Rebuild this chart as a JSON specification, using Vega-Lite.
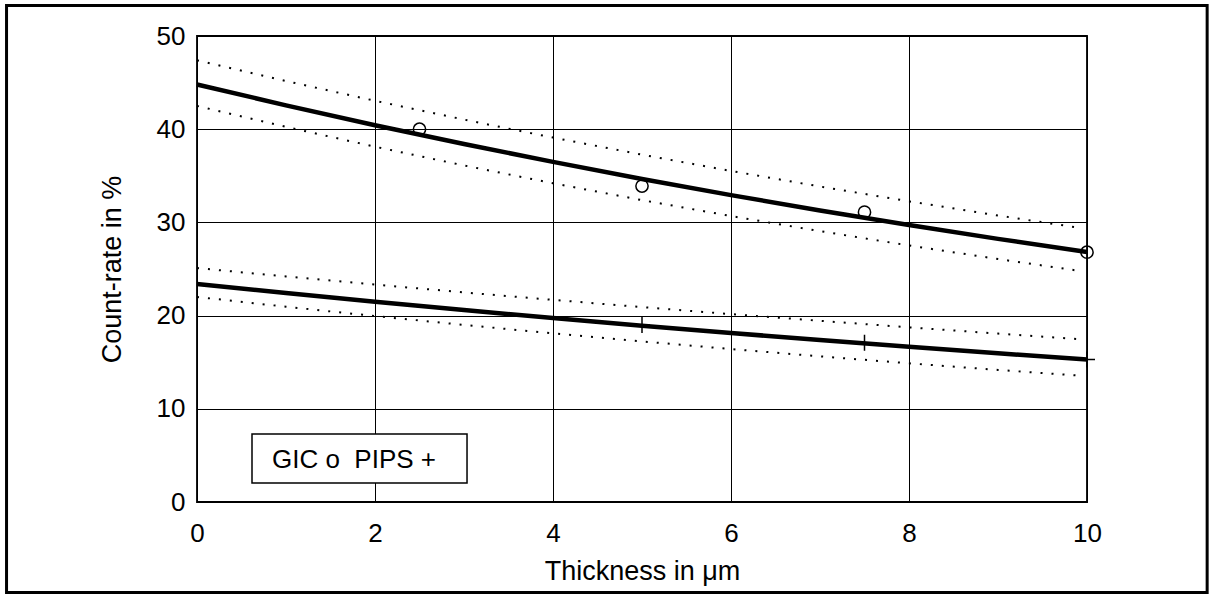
{
  "$schema": "https://vega.github.io/schema/vega-lite/v6.json",
  "width": 890,
  "height": 466,
  "autosize": "none",
  "padding": {"left": 197, "top": 36, "right": 122, "bottom": 92},
  "background": "white",
  "datasets": {
    "measured": [
      {"series": "GIC", "thickness": 2.5, "count": 40.0},
      {"series": "GIC", "thickness": 5.0, "count": 33.9},
      {"series": "GIC", "thickness": 7.5, "count": 31.1},
      {"series": "GIC", "thickness": 10.0, "count": 26.8},
      {"series": "PIPS", "thickness": 5.0, "count": 19.0},
      {"series": "PIPS", "thickness": 7.5, "count": 17.1},
      {"series": "PIPS", "thickness": 10.0, "count": 15.3}
    ],
    "curves": [
      {"series": "GIC", "band": "fit", "thickness": 0, "count": 44.8},
      {"series": "GIC", "band": "fit", "thickness": 1, "count": 42.56},
      {"series": "GIC", "band": "fit", "thickness": 2, "count": 40.43},
      {"series": "GIC", "band": "fit", "thickness": 3, "count": 38.41},
      {"series": "GIC", "band": "fit", "thickness": 4, "count": 36.49},
      {"series": "GIC", "band": "fit", "thickness": 5, "count": 34.66},
      {"series": "GIC", "band": "fit", "thickness": 6, "count": 32.93},
      {"series": "GIC", "band": "fit", "thickness": 7, "count": 31.28},
      {"series": "GIC", "band": "fit", "thickness": 8, "count": 29.72},
      {"series": "GIC", "band": "fit", "thickness": 9, "count": 28.23},
      {"series": "GIC", "band": "fit", "thickness": 10, "count": 26.82},
      {"series": "GIC", "band": "upper", "thickness": 0, "count": 47.4},
      {"series": "GIC", "band": "upper", "thickness": 1, "count": 45.17},
      {"series": "GIC", "band": "upper", "thickness": 2, "count": 43.05},
      {"series": "GIC", "band": "upper", "thickness": 3, "count": 41.03},
      {"series": "GIC", "band": "upper", "thickness": 4, "count": 39.1},
      {"series": "GIC", "band": "upper", "thickness": 5, "count": 37.27},
      {"series": "GIC", "band": "upper", "thickness": 6, "count": 35.52},
      {"series": "GIC", "band": "upper", "thickness": 7, "count": 33.85},
      {"series": "GIC", "band": "upper", "thickness": 8, "count": 32.26},
      {"series": "GIC", "band": "upper", "thickness": 9, "count": 30.74},
      {"series": "GIC", "band": "upper", "thickness": 9.9, "count": 29.44},
      {"series": "GIC", "band": "lower", "thickness": 0, "count": 42.5},
      {"series": "GIC", "band": "lower", "thickness": 1, "count": 40.25},
      {"series": "GIC", "band": "lower", "thickness": 2, "count": 38.12},
      {"series": "GIC", "band": "lower", "thickness": 3, "count": 36.11},
      {"series": "GIC", "band": "lower", "thickness": 4, "count": 34.2},
      {"series": "GIC", "band": "lower", "thickness": 5, "count": 32.39},
      {"series": "GIC", "band": "lower", "thickness": 6, "count": 30.68},
      {"series": "GIC", "band": "lower", "thickness": 7, "count": 29.06},
      {"series": "GIC", "band": "lower", "thickness": 8, "count": 27.52},
      {"series": "GIC", "band": "lower", "thickness": 9, "count": 26.07},
      {"series": "GIC", "band": "lower", "thickness": 9.9, "count": 24.82},
      {"series": "PIPS", "band": "fit", "thickness": 0, "count": 23.4},
      {"series": "PIPS", "band": "fit", "thickness": 1, "count": 22.43},
      {"series": "PIPS", "band": "fit", "thickness": 2, "count": 21.49},
      {"series": "PIPS", "band": "fit", "thickness": 3, "count": 20.6},
      {"series": "PIPS", "band": "fit", "thickness": 4, "count": 19.74},
      {"series": "PIPS", "band": "fit", "thickness": 5, "count": 18.92},
      {"series": "PIPS", "band": "fit", "thickness": 6, "count": 18.13},
      {"series": "PIPS", "band": "fit", "thickness": 7, "count": 17.38},
      {"series": "PIPS", "band": "fit", "thickness": 8, "count": 16.65},
      {"series": "PIPS", "band": "fit", "thickness": 9, "count": 15.96},
      {"series": "PIPS", "band": "fit", "thickness": 10, "count": 15.3},
      {"series": "PIPS", "band": "upper", "thickness": 0, "count": 25.1},
      {"series": "PIPS", "band": "upper", "thickness": 1, "count": 24.2},
      {"series": "PIPS", "band": "upper", "thickness": 2, "count": 23.33},
      {"series": "PIPS", "band": "upper", "thickness": 3, "count": 22.49},
      {"series": "PIPS", "band": "upper", "thickness": 4, "count": 21.69},
      {"series": "PIPS", "band": "upper", "thickness": 5, "count": 20.91},
      {"series": "PIPS", "band": "upper", "thickness": 6, "count": 20.16},
      {"series": "PIPS", "band": "upper", "thickness": 7, "count": 19.44},
      {"series": "PIPS", "band": "upper", "thickness": 8, "count": 18.74},
      {"series": "PIPS", "band": "upper", "thickness": 9, "count": 18.07},
      {"series": "PIPS", "band": "upper", "thickness": 9.9, "count": 17.48},
      {"series": "PIPS", "band": "lower", "thickness": 0, "count": 22.0},
      {"series": "PIPS", "band": "lower", "thickness": 1, "count": 20.95},
      {"series": "PIPS", "band": "lower", "thickness": 2, "count": 19.95},
      {"series": "PIPS", "band": "lower", "thickness": 3, "count": 19.0},
      {"series": "PIPS", "band": "lower", "thickness": 4, "count": 18.09},
      {"series": "PIPS", "band": "lower", "thickness": 5, "count": 17.23},
      {"series": "PIPS", "band": "lower", "thickness": 6, "count": 16.41},
      {"series": "PIPS", "band": "lower", "thickness": 7, "count": 15.63},
      {"series": "PIPS", "band": "lower", "thickness": 8, "count": 14.88},
      {"series": "PIPS", "band": "lower", "thickness": 9, "count": 14.17},
      {"series": "PIPS", "band": "lower", "thickness": 9.9, "count": 13.57}
    ]
  },
  "config": {
    "font": "Liberation Sans",
    "view": {"stroke": "black", "strokeWidth": 1.8},
    "axis": {
      "labelFont": "Liberation Sans",
      "labelFontSize": 26,
      "labelColor": "black",
      "labelFlush": false,
      "labelOverlap": false,
      "titleFont": "Liberation Sans",
      "titleFontSize": 27,
      "titleFontWeight": "normal",
      "titleColor": "black",
      "ticks": false,
      "domain": false,
      "grid": true,
      "gridColor": "black",
      "gridOpacity": 1,
      "gridWidth": 1
    }
  },
  "layer": [
    {
      "description": "outer figure frame",
      "data": {"values": [{}]},
      "mark": {"type": "rect", "fill": null, "stroke": "black", "strokeWidth": 3, "clip": false},
      "encoding": {
        "x": {"datum": -2.14, "type": "quantitative", "scale": {"domain": [0, 10], "nice": false, "zero": false},
              "axis": {"values": [0, 2, 4, 6, 8, 10], "format": "d", "title": "Thickness in μm", "labelPadding": 18, "titlePadding": 12}},
        "x2": {"datum": 11.35},
        "y": {"datum": 53.27, "type": "quantitative", "scale": {"domain": [0, 50], "nice": false, "zero": false},
              "axis": {"values": [0, 10, 20, 30, 40, 50], "format": "d", "title": "Count-rate in %", "labelPadding": 12, "titlePadding": 30}},
        "y2": {"datum": -9.71}
      }
    },
    {
      "data": {"name": "curves"},
      "transform": [{"filter": "datum.band === 'fit'"}],
      "mark": {"type": "line", "color": "black", "strokeWidth": 4.5, "clip": false},
      "encoding": {
        "x": {"field": "thickness", "type": "quantitative", "scale": {"domain": [0, 10], "nice": false, "zero": false}},
        "y": {"field": "count", "type": "quantitative", "scale": {"domain": [0, 50], "nice": false, "zero": false}},
        "detail": {"field": "series"},
        "order": {"field": "thickness"}
      }
    },
    {
      "data": {"name": "curves"},
      "transform": [{"filter": "datum.band !== 'fit'"}],
      "mark": {"type": "line", "color": "black", "strokeWidth": 2, "strokeDash": [2, 9], "strokeCap": "butt", "clip": false},
      "encoding": {
        "x": {"field": "thickness", "type": "quantitative", "scale": {"domain": [0, 10], "nice": false, "zero": false}},
        "y": {"field": "count", "type": "quantitative", "scale": {"domain": [0, 50], "nice": false, "zero": false}},
        "detail": [{"field": "series"}, {"field": "band"}],
        "order": {"field": "thickness"}
      }
    },
    {
      "data": {"name": "measured"},
      "transform": [{"filter": "datum.series === 'GIC'"}],
      "mark": {"type": "point", "shape": "circle", "filled": false, "stroke": "black", "strokeWidth": 1.5, "size": 150, "opacity": 1, "clip": false},
      "encoding": {
        "x": {"field": "thickness", "type": "quantitative", "scale": {"domain": [0, 10], "nice": false, "zero": false}},
        "y": {"field": "count", "type": "quantitative", "scale": {"domain": [0, 50], "nice": false, "zero": false}}
      }
    },
    {
      "data": {"name": "measured"},
      "transform": [{"filter": "datum.series === 'PIPS'"}],
      "mark": {"type": "point", "shape": "M-1,0H1M0,-1V1", "filled": false, "stroke": "black", "strokeWidth": 1.5, "size": 256, "opacity": 1, "clip": false},
      "encoding": {
        "x": {"field": "thickness", "type": "quantitative", "scale": {"domain": [0, 10], "nice": false, "zero": false}},
        "y": {"field": "count", "type": "quantitative", "scale": {"domain": [0, 50], "nice": false, "zero": false}}
      }
    },
    {
      "description": "key box",
      "data": {"values": [{}]},
      "mark": {"type": "rect", "fill": "white", "stroke": "black", "strokeWidth": 1.5},
      "encoding": {
        "x": {"datum": 0.618, "type": "quantitative", "scale": {"domain": [0, 10], "nice": false, "zero": false}},
        "x2": {"datum": 3.034},
        "y": {"datum": 7.3, "type": "quantitative", "scale": {"domain": [0, 50], "nice": false, "zero": false}},
        "y2": {"datum": 2.04}
      }
    },
    {
      "data": {"values": [{}]},
      "mark": {"type": "text", "text": "GIC o\u00a0 PIPS +", "font": "Liberation Sans", "fontSize": 26, "color": "black", "align": "center", "baseline": "middle"},
      "encoding": {
        "x": {"datum": 1.764, "type": "quantitative", "scale": {"domain": [0, 10], "nice": false, "zero": false}},
        "y": {"datum": 4.55, "type": "quantitative", "scale": {"domain": [0, 50], "nice": false, "zero": false}}
      }
    }
  ]
}
